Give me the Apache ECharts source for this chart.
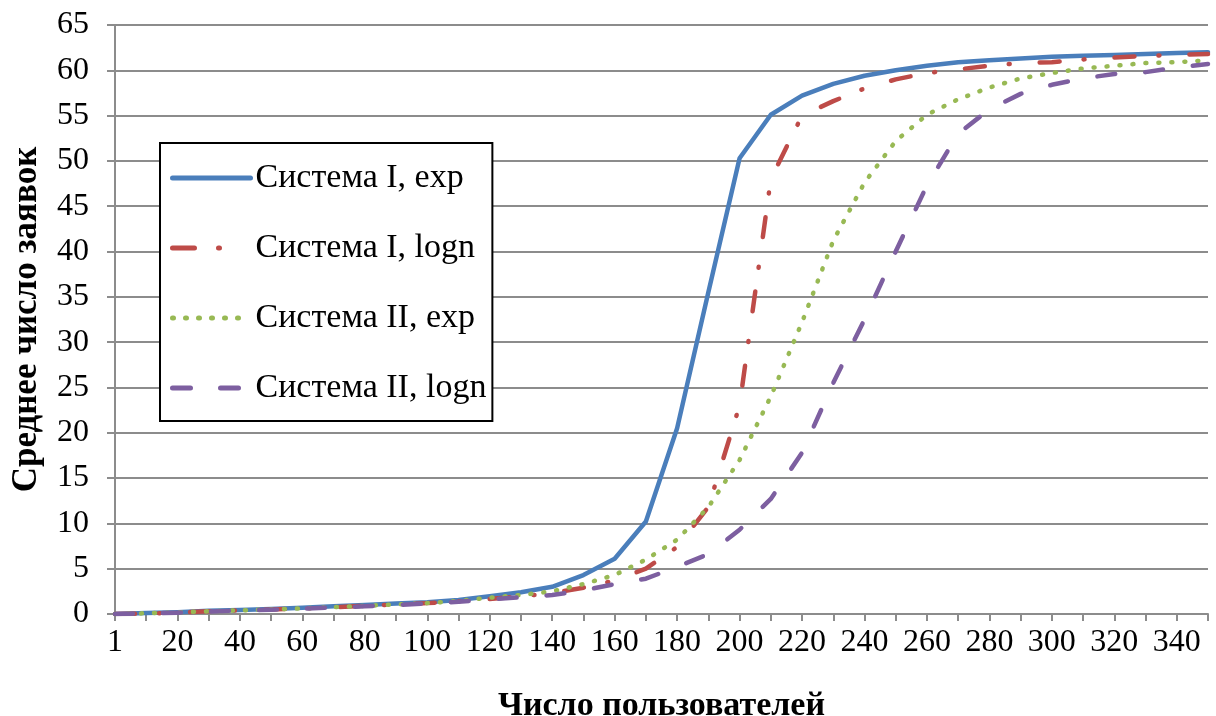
<!DOCTYPE html>
<html>
<head>
<meta charset="utf-8">
<script src="https://cdn.jsdelivr.net/npm/echarts@6/dist/echarts.min.js"></script>
<style>
html,body{margin:0;padding:0;background:#fff;}
#chart{width:1216px;height:716px;}
</style>
</head>
<body>
<div id="chart"></div>
<script>
const categories = ['1','10','20','30','40','50','60','70','80','90','100','110','120','130','140','150','160','170','180','190','200','210','220','230','240','250','260','270','280','290','300','310','320','330','340','350'];
const seriesNames = ['Система I, exp','Система I, logn','Система II, exp','Система II, logn'];
const sys1Exp  = [0,0.1,0.2,0.35,0.45,0.55,0.7,0.85,1.0,1.15,1.3,1.55,1.95,2.4,3.0,4.3,6.1,10.2,20.5,35.5,50.3,55.1,57.2,58.5,59.4,60.0,60.5,60.9,61.1,61.3,61.5,61.6,61.7,61.8,61.9,62.0];
const sys1Logn = [0,0.05,0.15,0.3,0.4,0.5,0.6,0.75,0.9,1.05,1.2,1.4,1.65,1.95,2.3,2.9,3.7,5.0,7.4,11.8,23.0,48.0,55.0,56.6,58.0,59.0,59.7,60.1,60.5,60.8,60.9,61.2,61.4,61.6,61.7,61.8];
const sys2Exp  = [0,0.08,0.18,0.3,0.4,0.5,0.62,0.75,0.9,1.05,1.2,1.45,1.8,2.1,2.5,3.3,4.3,6.0,8.2,11.8,17.0,24.0,32.2,41.2,47.6,52.2,55.1,56.8,58.1,59.1,59.7,60.2,60.5,60.8,60.9,61.1];
const sys2Logn = [0,0.05,0.15,0.28,0.38,0.48,0.58,0.72,0.85,1.0,1.15,1.35,1.6,1.85,2.1,2.6,3.3,3.9,5.2,6.6,9.3,12.7,17.8,25.5,32.5,40.0,47.3,53.0,55.7,57.4,58.4,59.1,59.6,59.8,60.3,60.7];
const xTitle = 'Число пользователей';
const yTitle = 'Среднее число заявок';

const font = '"Liberation Serif","Times New Roman",serif';
const gridColor = '#8c8c8c';

const chart = echarts.init(document.getElementById('chart'), null, {renderer:'canvas'});
function mk(name, data, color, type){
  return {
    name, type:'line', data, symbol:'none', showSymbol:false, smooth:false, animation:false,
    lineStyle:{color, width:4.5, type, cap:'round', join:'round'},
    itemStyle:{color}
  };
}
chart.setOption({
  animation:false,
  backgroundColor:'#fff',
  grid:{left:115, right:8, top:25, bottom:102, containLabel:false, outerBoundsMode:'none'},
  xAxis:{
    type:'category', data:categories, boundaryGap:false,
    name:xTitle, nameLocation:'middle', nameGap:75,
    nameTextStyle:{fontFamily:font, fontSize:34, fontWeight:'bold', color:'#000'},
    axisLine:{lineStyle:{color:gridColor, width:2}},
    axisTick:{show:true, interval:0, length:7, lineStyle:{color:gridColor, width:2}},
    axisLabel:{interval:1, fontFamily:font, fontSize:32, color:'#000', margin:13},
    splitLine:{show:false}
  },
  yAxis:{
    type:'value', min:0, max:65, interval:5,
    name:yTitle, nameLocation:'middle', nameGap:71, nameRotate:90,
    nameTextStyle:{fontFamily:font, fontSize:35, fontWeight:'bold', color:'#000'},
    axisLine:{show:true, lineStyle:{color:gridColor, width:2}},
    axisTick:{show:true, length:8, lineStyle:{color:gridColor, width:2}},
    axisLabel:{fontFamily:font, fontSize:32, color:'#000', margin:26},
    splitLine:{show:true, lineStyle:{color:gridColor, width:2}}
  },
  legend:{
    orient:'vertical', left:160, top:143,
    data:[
      {name:seriesNames[0]},
      {name:seriesNames[1], lineStyle:{type:[22,24,1,60]}},
      {name:seriesNames[2]},
      {name:seriesNames[3]}
    ],
    backgroundColor:'#fff', borderColor:'#000', borderWidth:2,
    padding:[17,6,15,10],
    itemWidth:78, itemHeight:6, itemGap:34,
    itemStyle:{color:'rgba(0,0,0,0)', borderWidth:0, opacity:0},
    lineStyle:{width:5},
    textStyle:{fontFamily:font, fontSize:34, color:'#000', lineHeight:36}
  },
  series:[
    mk(seriesNames[0], sys1Exp, '#4A7EBB', 'solid'),
    mk(seriesNames[1], sys1Logn, '#BE4B48', [20,24,1,30]),
    mk(seriesNames[2], sys2Exp, '#98B954', [1,12]),
    mk(seriesNames[3], sys2Logn, '#7D5FA0', [18,30])
  ]
});
</script>
</body>
</html>
